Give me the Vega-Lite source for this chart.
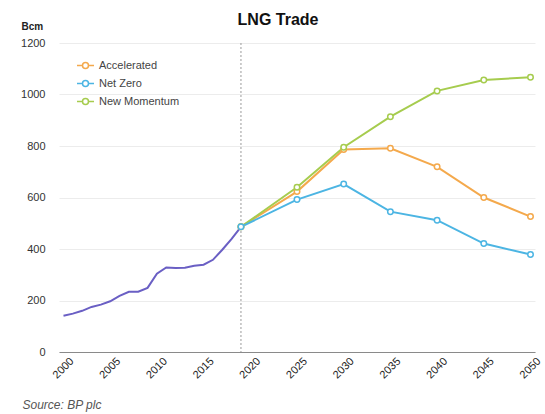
{
  "$schema": "https://vega.github.io/schema/vega-lite/v6.json",
  "width": 476,
  "height": 309,
  "autosize": {"type": "none"},
  "padding": {"left": 59, "top": 43, "right": 10, "bottom": 62},
  "background": "white",
  "title": {
    "text": "LNG Trade",
    "fontSize": 16,
    "fontWeight": "bold",
    "color": "#111111",
    "font": "Liberation Sans",
    "anchor": "middle",
    "dx": -19,
    "offset": -7
  },
  "config": {
    "font": "Liberation Sans",
    "view": {"stroke": null},
    "axis": {"labelFont": "Liberation Sans", "titleFont": "Liberation Sans"}
  },
  "datasets": {
    "history": [
      {"year": 2000, "bcm": 141}, {"year": 2001, "bcm": 149}, {"year": 2002, "bcm": 160},
      {"year": 2003, "bcm": 175}, {"year": 2004, "bcm": 184}, {"year": 2005, "bcm": 197},
      {"year": 2006, "bcm": 218}, {"year": 2007, "bcm": 234}, {"year": 2008, "bcm": 234},
      {"year": 2009, "bcm": 249}, {"year": 2010, "bcm": 304}, {"year": 2011, "bcm": 328},
      {"year": 2012, "bcm": 326}, {"year": 2013, "bcm": 327}, {"year": 2014, "bcm": 335},
      {"year": 2015, "bcm": 339}, {"year": 2016, "bcm": 358}, {"year": 2017, "bcm": 397},
      {"year": 2018, "bcm": 439}, {"year": 2019, "bcm": 486}
    ],
    "scenarios": [
      {"scenario": "Accelerated", "year": 2019, "bcm": 486},
      {"scenario": "Accelerated", "year": 2025, "bcm": 623},
      {"scenario": "Accelerated", "year": 2030, "bcm": 786},
      {"scenario": "Accelerated", "year": 2035, "bcm": 791},
      {"scenario": "Accelerated", "year": 2040, "bcm": 719},
      {"scenario": "Accelerated", "year": 2045, "bcm": 600},
      {"scenario": "Accelerated", "year": 2050, "bcm": 526},
      {"scenario": "New Momentum", "year": 2019, "bcm": 486},
      {"scenario": "New Momentum", "year": 2025, "bcm": 640},
      {"scenario": "New Momentum", "year": 2030, "bcm": 795},
      {"scenario": "New Momentum", "year": 2035, "bcm": 914},
      {"scenario": "New Momentum", "year": 2040, "bcm": 1014},
      {"scenario": "New Momentum", "year": 2045, "bcm": 1056},
      {"scenario": "New Momentum", "year": 2050, "bcm": 1067},
      {"scenario": "Net Zero", "year": 2019, "bcm": 486},
      {"scenario": "Net Zero", "year": 2025, "bcm": 592},
      {"scenario": "Net Zero", "year": 2030, "bcm": 652},
      {"scenario": "Net Zero", "year": 2035, "bcm": 545},
      {"scenario": "Net Zero", "year": 2040, "bcm": 512},
      {"scenario": "Net Zero", "year": 2045, "bcm": 421},
      {"scenario": "Net Zero", "year": 2050, "bcm": 379}
    ],
    "marker": [{"year": 2019}]
  },
  "encoding": {
    "x": {
      "field": "year",
      "type": "quantitative",
      "scale": {"domain": [2000, 2050], "nice": false, "zero": false, "padding": 4.5},
      "axis": {
        "values": [2000, 2005, 2010, 2015, 2020, 2025, 2030, 2035, 2040, 2045, 2050],
        "format": "d",
        "labelAngle": -45,
        "labelAlign": "right",
        "labelBaseline": "top",
        "labelFontSize": 11,
        "labelColor": "#222222",
        "labelPadding": 3,
        "labelOffset": 4,
        "ticks": false,
        "grid": false,
        "domainColor": "#8a8a8a",
        "domainWidth": 1,
        "title": "Source: BP plc",
        "titleFontStyle": "italic",
        "titleFontWeight": "normal",
        "titleFontSize": 12,
        "titleColor": "#555555",
        "titleAnchor": "start",
        "titleAlign": "left",
        "titleBaseline": "alphabetic",
        "titleX": -37,
        "titleY": 56
      }
    },
    "y": {
      "field": "bcm",
      "type": "quantitative",
      "scale": {"domain": [0, 1200], "nice": false},
      "axis": {
        "values": [0, 200, 400, 600, 800, 1000, 1200],
        "format": "d",
        "labelFontSize": 11,
        "labelColor": "#333333",
        "labelPadding": 14,
        "ticks": false,
        "domain": false,
        "gridColor": "#ececec",
        "gridWidth": 1,
        "title": "Bcm",
        "titleAngle": 0,
        "titleFontSize": 10,
        "titleFontWeight": "bold",
        "titleColor": "#222222",
        "titleAlign": "left",
        "titleBaseline": "alphabetic",
        "titleX": -38,
        "titleY": -14
      }
    }
  },
  "layer": [
    {
      "data": {"name": "marker"},
      "mark": {"type": "rule", "color": "#9a9a9a", "strokeDash": [2, 2], "strokeWidth": 1},
      "encoding": {"y": null}
    },
    {
      "data": {"name": "history"},
      "mark": {"type": "line", "color": "#6a5fc4", "strokeWidth": 2}
    },
    {
      "data": {"name": "scenarios"},
      "mark": {
        "type": "line",
        "strokeWidth": 2,
        "point": {"filled": false, "fill": "white", "size": 30, "strokeWidth": 1.5}
      },
      "encoding": {
        "color": {
          "field": "scenario",
          "type": "nominal",
          "scale": {
            "domain": ["Accelerated", "Net Zero", "New Momentum"],
            "range": ["#f4a94c", "#4cb5e3", "#a6cc4e"]
          },
          "legend": {
            "title": null,
            "orient": "none",
            "legendX": 17,
            "legendY": 13,
            "symbolType": "M-1,0L-0.35,0M0.35,0L1,0M-0.35,0A0.35,0.35 0 1,1 0.35,0A0.35,0.35 0 1,1 -0.35,0",
            "symbolSize": 289,
            "symbolStrokeWidth": 1.5,
            "symbolFillColor": "white",
            "labelFontSize": 11,
            "labelColor": "#444444",
            "labelOffset": 4,
            "rowPadding": 2
          }
        }
      }
    }
  ]
}
